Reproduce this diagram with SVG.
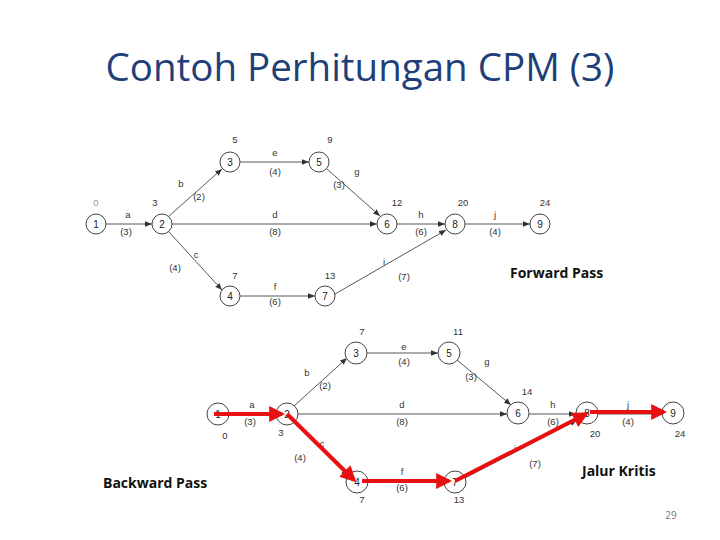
<svg xmlns="http://www.w3.org/2000/svg" width="720" height="540" viewBox="0 0 720 540">
<defs>
<marker id="ar" viewBox="0 0 10 10" refX="10" refY="5" markerWidth="7" markerHeight="7" orient="auto" markerUnits="userSpaceOnUse"><path d="M0,1 L10,5 L0,9 z" fill="#333"/></marker>
<marker id="rar" viewBox="0 0 10 10" refX="8" refY="5" markerWidth="4" markerHeight="4" orient="auto"><path d="M0,0 L10,5 L0,10 z" fill="#e81010"/></marker>
</defs>
<style>
.n circle{fill:#fff;stroke:#444;stroke-width:1}
.n text{font-family:"Liberation Sans",Arial,sans-serif;font-size:10px;text-anchor:middle;fill:#222}
.e line{stroke:#444;stroke-width:0.9;marker-end:url(#ar)}
.l{font-family:"Liberation Sans",Arial,sans-serif;font-size:9.5px;text-anchor:middle;fill:#333}
.r{stroke:#e81010;stroke-width:4;fill:none;marker-end:url(#rar)}
.b{font-family:"Open Sans",sans-serif;font-weight:bold;font-size:14px;fill:#111}
</style>
<rect width="720" height="540" fill="#fff"/>
<text x="360" y="81" text-anchor="middle" font-family="'Open Sans',sans-serif" font-size="38.5" fill="#1f3f7a">Contoh Perhitungan CPM (3)</text>

<g id="edges-top" class="e">
<line x1="106" y1="224" x2="152" y2="224"/>
<line x1="169" y1="216" x2="222" y2="169"/>
<line x1="169" y1="232" x2="222" y2="290"/>
<line x1="172" y1="224" x2="377" y2="224"/>
<line x1="240" y1="162" x2="309" y2="162"/>
<line x1="327" y1="169" x2="380" y2="216"/>
<line x1="240" y1="296" x2="315" y2="296"/>
<line x1="335" y1="294" x2="446" y2="230"/>
<line x1="397" y1="224" x2="445" y2="224"/>
<line x1="465" y1="224" x2="530" y2="224"/>
</g>
<g id="nodes-top">
<g class="n" id="t1"><circle cx="96" cy="224" r="10"/><text x="96" y="228">1</text></g>
<g class="n" id="t2"><circle cx="162" cy="224" r="10"/><text x="162" y="228">2</text></g>
<g class="n" id="t3"><circle cx="230" cy="162" r="10"/><text x="230" y="166">3</text></g>
<g class="n" id="t5"><circle cx="319" cy="162" r="10"/><text x="319" y="166">5</text></g>
<g class="n" id="t6"><circle cx="387" cy="224" r="10"/><text x="387" y="228">6</text></g>
<g class="n" id="t8"><circle cx="455" cy="224" r="10"/><text x="455" y="228">8</text></g>
<g class="n" id="t9"><circle cx="540" cy="224" r="10"/><text x="540" y="228">9</text></g>
<g class="n" id="t4"><circle cx="230" cy="296" r="10"/><text x="230" y="300">4</text></g>
<g class="n" id="t7"><circle cx="325" cy="296" r="10"/><text x="325" y="300">7</text></g>
</g>
<g id="labels-top" class="l">
<text x="96" y="206" fill="#999">0</text><text x="155" y="206">3</text><text x="235" y="143">5</text><text x="330" y="143">9</text>
<text x="397" y="206">12</text><text x="463" y="206">20</text><text x="545" y="206">24</text><text x="235" y="279">7</text><text x="330" y="279">13</text>
<text x="128" y="218">a</text><text x="126" y="235">(3)</text><text x="181" y="187">b</text><text x="199" y="200">(2)</text>
<text x="275" y="156">e</text><text x="275" y="175">(4)</text><text x="357" y="175">g</text><text x="339" y="188">(3)</text>
<text x="275" y="218">d</text><text x="275" y="235">(8)</text><text x="421" y="218">h</text><text x="421" y="235">(6)</text>
<text x="495" y="218">j</text><text x="495" y="235">(4)</text><text x="196" y="258">c</text><text x="175" y="271">(4)</text>
<text x="275" y="290">f</text><text x="275" y="305">(6)</text><text x="384" y="265">i</text><text x="404" y="280">(7)</text>
</g>
<text class="b" x="510" y="278">Forward Pass</text>

<g id="edges-bottom" class="e">
<line x1="229" y1="414" x2="276" y2="414"/>
<line x1="294" y1="406" x2="347" y2="358"/>
<line x1="294" y1="422" x2="348" y2="476"/>
<line x1="298" y1="414" x2="507" y2="414"/>
<line x1="367" y1="353" x2="438" y2="353"/>
<line x1="457" y1="360" x2="511" y2="405"/>
<line x1="368" y1="482" x2="444" y2="482"/>
<line x1="465" y1="478" x2="577" y2="420"/>
<line x1="529" y1="414" x2="576" y2="414"/>
<line x1="598" y1="414" x2="662" y2="414"/>
</g>
<g id="nodes-bottom">
<g class="n" id="b1"><circle cx="218" cy="414" r="11"/><text x="218" y="418">1</text></g>
<g class="n" id="b2"><circle cx="287" cy="414" r="11"/><text x="287" y="418">2</text></g>
<g class="n" id="b3"><circle cx="356" cy="353" r="11"/><text x="356" y="357">3</text></g>
<g class="n" id="b5"><circle cx="449" cy="353" r="11"/><text x="449" y="357">5</text></g>
<g class="n" id="b6"><circle cx="518" cy="413" r="11"/><text x="518" y="417">6</text></g>
<g class="n" id="b8"><circle cx="587" cy="413" r="11"/><text x="587" y="417">8</text></g>
<g class="n" id="b9"><circle cx="673" cy="413" r="11"/><text x="673" y="417">9</text></g>
<g class="n" id="b4"><circle cx="357" cy="482" r="11"/><text x="357" y="486">4</text></g>
<g class="n" id="b7"><circle cx="455" cy="482" r="11"/><text x="455" y="486">7</text></g>
</g>
<g id="labels-bottom" class="l">
<text x="362" y="335">7</text><text x="458" y="335">11</text><text x="527" y="395">14</text><text x="595" y="437">20</text><text x="680" y="437">24</text>
<text x="225" y="439">0</text><text x="281" y="436">3</text><text x="362" y="503">7</text><text x="459" y="503">13</text>
<text x="252" y="408">a</text><text x="250" y="425">(3)</text><text x="307" y="376">b</text><text x="325" y="389">(2)</text>
<text x="404" y="350">e</text><text x="404" y="365">(4)</text><text x="487" y="365">g</text><text x="471" y="380">(3)</text>
<text x="402" y="408">d</text><text x="402" y="425">(8)</text><text x="553" y="408">h</text><text x="553" y="425">(6)</text>
<text x="628" y="408">j</text><text x="628" y="425">(4)</text><text x="322" y="447">c</text><text x="300" y="461">(4)</text>
<text x="402" y="475">f</text><text x="402" y="491">(6)</text><text x="515" y="452">i</text><text x="535" y="467">(7)</text>
</g>
<g id="critical-path">
<line class="r" x1="214" y1="414" x2="282" y2="414"/>
<line class="r" x1="287" y1="414" x2="354" y2="480"/>
<line class="r" x1="362" y1="481" x2="449" y2="481"/>
<line class="r" x1="455" y1="481" x2="586" y2="414"/>
<line class="r" x1="590" y1="412" x2="664" y2="412"/>
</g>
<text class="b" x="103" y="488">Backward Pass</text>
<text class="b" x="582" y="476" fill="#e01818">Jalur Kritis</text>
<text x="671" y="519" text-anchor="middle" font-family="'Open Sans',sans-serif" font-size="10" fill="#777">29</text>
</svg>
